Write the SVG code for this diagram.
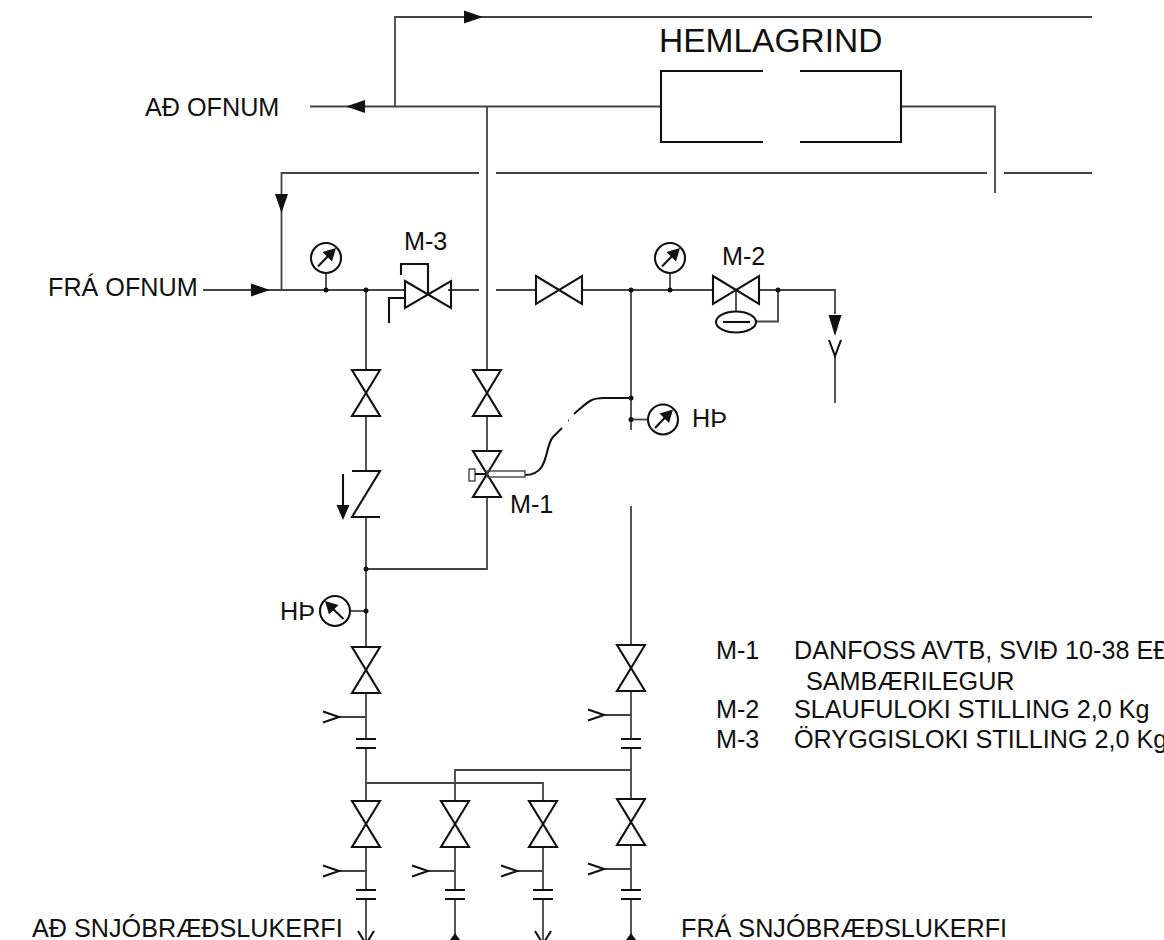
<svg xmlns="http://www.w3.org/2000/svg" width="1164" height="940" viewBox="0 0 1164 940">
<style>
text{font-family:"Liberation Sans",Arial,sans-serif;font-size:25.200px;fill:#111}
.p{fill:none;stroke:#444;stroke-width:1.800}
.s{fill:none;stroke:#111;stroke-width:2.100}
.d{fill:#111;stroke:none}
</style>
<defs>
<path id="valve" class="s" d="M-23,-14L23,14V-14L-23,14Z"/>
<g id="gauge"><circle class="s" r="15"/><path class="s" d="M-8,8.500L3,-3"/><path class="d" d="M10,-10L6,3.500L-3.500,-6Z"/></g>
<path id="chev" class="s" d="M0,-5.500L16,0L0,5.500"/>
<path id="bars" class="s" d="M-10,0H10M-10,9H10"/>
<path id="ah" class="d" d="M0,0L-19,-6.500V6.500Z"/>
</defs>
<g id="connectors">
<path class="p" d="M395,106.500V17H1092"/>
<path class="p" d="M310,106.500H662"/>
<path class="p" d="M487,106.500V370"/>
<path class="p" d="M901,106.500H995V193"/>
<path class="p" d="M479,173H281.500V290"/>
<path class="p" d="M496,173H987M1004,173H1092"/>
<path class="p" d="M203,290H405"/>
<path class="p" d="M448,290H479M496,290H536"/>
<path class="p" d="M582,290H712"/>
<path class="p" d="M759,290H835V314M835,356V403"/>
<path class="p" d="M631,290V430M631,506V645"/>
<path class="p" d="M631,419.500H648"/>
<path class="p" d="M326,273V290M670,273V290"/>
<path class="p" d="M736,290V311M755.500,321.500H778V290"/>
<path class="p" d="M366,290V370M366,416V471M366,517V647M366,569H487V497M487,416V451"/>
<path class="p" d="M350,611H366"/>
<path class="p" d="M366,693V739M366,748V801M366,783H543V801M455,801V770H631"/>
<path class="p" d="M631,691V739M631,748V799"/>
<path class="p" d="M366,847V890M366,899V940M455,847V890M455,899V940M543,847V890M543,899V940M631,845V890M631,899V940"/>
<path class="p" d="M339,717H366M604,715H631M339,871H366M428,871H455M517,871H543M604,869H631"/>
<path class="s" d="M631,398H604C590,398 588,402 574,414M562,428L553,437C544,447 550,475 525,475M568,420.500h.8"/>
</g>
<g id="arrowheads">
<use href="#ah" transform="translate(483,17)"/>
<use href="#ah" transform="translate(346,106.500) rotate(180)"/>
<use href="#ah" transform="translate(281.500,213) rotate(90)"/>
<use href="#ah" transform="translate(270,290)"/>
<use href="#ah" transform="translate(835,336) rotate(90) scale(1.100,1)"/>
<path class="d" d="M455,933L450,940H460Z"/>
<path class="d" d="M631,933L626,940H636Z"/>
<path class="s" d="M358,931L366,944L374,931M535,931L543,944L551,931"/>
<path class="s" d="M829,340L835,356L841,340"/>
<circle class="d" cx="366" cy="290" r="2.500"/><circle class="d" cx="326" cy="290" r="2.500"/><circle class="d" cx="670" cy="290" r="2.500"/><circle class="d" cx="631" cy="290" r="2.500"/><circle class="d" cx="778" cy="290" r="2.500"/><circle class="d" cx="631" cy="398" r="2.500"/><circle class="d" cx="631" cy="419.500" r="2.500"/><circle class="d" cx="366" cy="569" r="2.500"/><circle class="d" cx="366" cy="611" r="2.500"/>
</g>
<g id="hemlagrind"><path class="s" d="M763,71H661V142H763M800,71H901V142H800"/><text x="659" y="52" style="font-size:33.500px">HEMLAGRIND</text></g>
<g id="label-ad-ofnum"><text x="145" y="116">AÐ OFNUM</text></g>
<g id="label-fra-ofnum"><text x="48" y="296">FRÁ OFNUM</text></g>
<g id="gauge-1"><use href="#gauge" x="326" y="258"/></g>
<g id="m3"><path class="s" d="M405,281L451,308V281L405,308Z"/><path class="s" d="M428,294V264H401V275M405,298H389V323"/><text x="404" y="250">M-3</text></g>
<g id="valve-h"><use href="#valve" x="559" y="290"/></g>
<g id="gauge-2"><use href="#gauge" x="670" y="258"/></g>
<g id="m2"><use href="#valve" x="736" y="290"/><ellipse class="s" cx="736" cy="322" rx="20" ry="10.500"/><path class="s" d="M723,322H750"/><text x="722" y="265">M-2</text></g>
<g id="gauge-hp-right"><use href="#gauge" x="663" y="419.500"/><text x="692" y="427">HÞ</text></g>
<g id="valve-a"><use href="#valve" transform="translate(366,393) rotate(90)"/></g>
<g id="valve-b"><use href="#valve" transform="translate(487,393) rotate(90)"/></g>
<g id="check"><path class="s" d="M352,471H380L352,517H380"/><path class="s" d="M343,474V506"/><path class="d" d="M343,520L336.500,505H349.500Z"/></g>
<g id="m1"><use href="#valve" transform="translate(487,474) rotate(90)"/><rect x="469" y="469" width="6" height="12" fill="none" stroke="#444" stroke-width="1.400"/><path class="s" d="M475,474H487"/><rect x="487" y="471" width="38" height="6" fill="none" stroke="#444" stroke-width="1.400"/><text x="510" y="513">M-1</text></g>
<g id="gauge-hp-left"><use href="#gauge" transform="translate(335,611) rotate(-90)"/><text x="280" y="620">HÞ</text></g>
<g id="valve-c"><use href="#valve" transform="translate(366,670) rotate(90)"/></g>
<g id="valve-d"><use href="#valve" transform="translate(631,668) rotate(90)"/></g>
<g id="valve-e"><use href="#valve" transform="translate(366,824) rotate(90)"/></g>
<g id="valve-f"><use href="#valve" transform="translate(455,824) rotate(90)"/></g>
<g id="valve-g"><use href="#valve" transform="translate(543,824) rotate(90)"/></g>
<g id="valve-h2"><use href="#valve" transform="translate(631,822) rotate(90)"/></g>
<g id="drains">
<use href="#chev" x="323" y="717"/><use href="#chev" x="588" y="715"/><use href="#chev" x="323" y="871"/><use href="#chev" x="412" y="871"/><use href="#chev" x="501" y="871"/><use href="#chev" x="588" y="869"/>
</g>
<g id="unions">
<use href="#bars" x="366" y="739"/><use href="#bars" x="631" y="739"/><use href="#bars" x="366" y="890"/><use href="#bars" x="455" y="890"/><use href="#bars" x="543" y="890"/><use href="#bars" x="631" y="890"/>
</g>
<g id="legend">
<text x="716" y="659">M-1</text><text x="794" y="659">DANFOSS AVTB, SVIÐ 10-38 EÐ</text>
<text x="806" y="690">SAMBÆRILEGUR</text>
<text x="716" y="718">M-2</text><text x="794" y="718">SLAUFULOKI STILLING 2,0 Kg</text>
<text x="716" y="748">M-3</text><text x="794" y="748">ÖRYGGISLOKI STILLING 2,0 Kg</text>
</g>
<g id="label-ad-snjo"><text x="32" y="937">AÐ SNJÓBRÆÐSLUKERFI</text></g>
<g id="label-fra-snjo"><text x="681" y="937">FRÁ SNJÓBRÆÐSLUKERFI</text></g>
</svg>
